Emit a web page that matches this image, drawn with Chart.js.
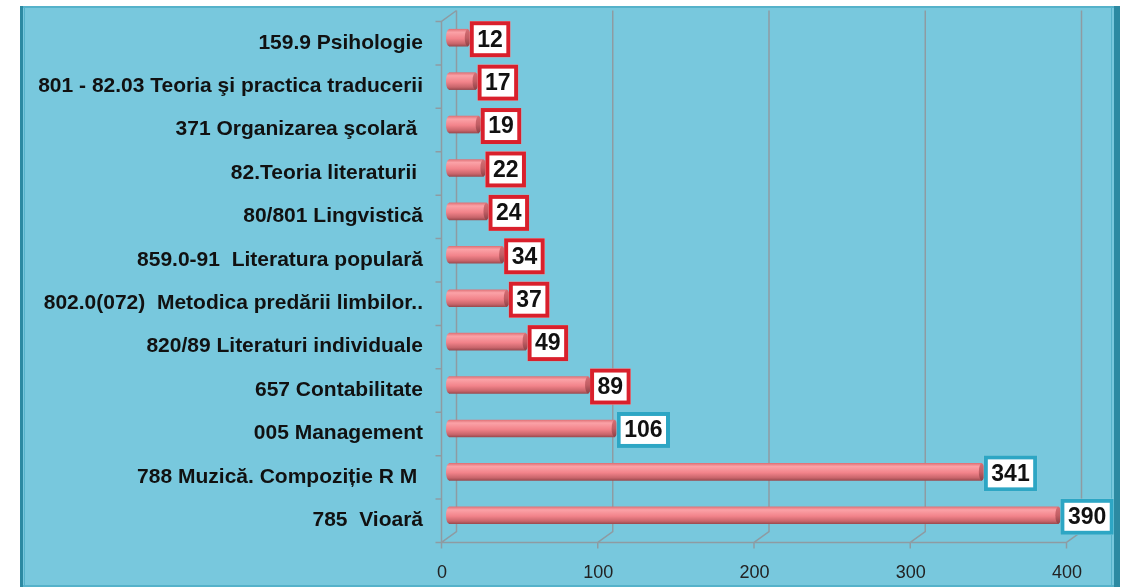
<!DOCTYPE html>
<html>
<head>
<meta charset="utf-8">
<script src="https://cdn.jsdelivr.net/npm/chart.js@4.4.1/dist/chart.umd.min.js"></script>
<style>
  html, body { margin: 0; padding: 0; background: #fff; }
  canvas { display: block; }
</style>
</head>
<body>
<canvas id="chart" width="1127" height="587"></canvas>
<script>
// categories, top to bottom
const categories = [
  '159.9 Psihologie',
  '801 - 82.03 Teoria şi practica traducerii',
  '371 Organizarea şcolară ',
  '82.Teoria literaturii ',
  '80/801 Lingvistică',
  '859.0-91  Literatura populară',
  '802.0(072)  Metodica predării limbilor..',
  '820/89 Literaturi individuale',
  '657 Contabilitate',
  '005 Management',
  '788 Muzică. Compoziție R M ',
  '785  Vioară'
];
const counts = [12, 17, 19, 22, 24, 34, 37, 49, 89, 106, 341, 390];
const xTicks = [0, 100, 200, 300, 400];

const PANEL_BG = '#78C8DD',
  FRAME_DARK = '#2C8AA2',
  FRAME_LIGHT = '#55B2CA',
  GRID = '#8E9BA2',
  BOX_RED = '#D9202C',
  BOX_TEAL = '#2DA6C4',
  DX = 7.5,   // half depth of the 3d floor, horizontal
  DY = 5.5,   // half depth, vertical
  BAR_H = 17;

function barFill(ctx) {
  const chart = ctx.chart;
  if (!chart.chartArea || ctx.dataIndex === undefined) return '#F2838A';
  const y = chart.scales.y.getPixelForValue(ctx.dataIndex);
  const g = chart.ctx.createLinearGradient(0, y - BAR_H / 2, 0, y + BAR_H / 2);
  g.addColorStop(0, '#E07378');
  g.addColorStop(0.18, '#FBA2A7');
  g.addColorStop(0.55, '#F2838A');
  g.addColorStop(0.85, '#C9656B');
  g.addColorStop(1, '#9C4B50');
  return g;
}

// white page, blue panel with teal frame
const framePlugin = {
  id: 'frame',
  beforeDraw(chart) {
    const c = chart.ctx, w = chart.width, h = chart.height;
    c.save();
    c.fillStyle = '#fff';
    c.fillRect(0, 0, w, h);
    c.fillStyle = PANEL_BG;
    c.fillRect(20, 6, 1100, h - 6);
    c.fillStyle = FRAME_LIGHT;
    c.fillRect(20, 6, 1100, 2);
    c.fillRect(20, h - 2, 1100, 2);
    c.fillStyle = FRAME_DARK;
    c.fillRect(20, 6, 3, h - 6);
    c.fillRect(1114, 6, 6, h - 6);
    c.fillStyle = FRAME_LIGHT;
    c.fillRect(24, 8, 1, h - 10);
    c.fillRect(1111, 8, 1, h - 10);
    c.restore();
  }
};

// 3d walls, floor and grid lines
const gridPlugin = {
  id: 'grid3d',
  beforeDatasetsDraw(chart) {
    const c = chart.ctx, a = chart.chartArea, xs = chart.scales.x;
    const backTop = a.top - DY, backBottom = a.bottom - DY,
      frontTop = a.top + DY, frontBottom = a.bottom + DY;
    const x0 = xs.getPixelForValue(0);
    c.save();
    c.strokeStyle = GRID;
    c.lineWidth = 1.5;
    c.beginPath();
    xTicks.forEach(v => {
      const px = xs.getPixelForValue(v);
      c.moveTo(px + DX, backTop);
      c.lineTo(px + DX, backBottom);
      c.lineTo(px - DX, frontBottom);
      c.lineTo(px - DX, frontBottom + 6);
    });
    // floor front edge
    c.moveTo(x0 - DX, frontBottom);
    c.lineTo(xs.getPixelForValue(xTicks[xTicks.length - 1]) - DX, frontBottom);
    // left wall front edge
    c.moveTo(x0 + DX, backTop);
    c.lineTo(x0 - DX, frontTop);
    c.lineTo(x0 - DX, frontBottom);
    const band = (a.bottom - a.top) / categories.length;
    for (let i = 0; i <= categories.length; i++) {
      const y = a.top + i * band + DY;
      c.moveTo(x0 - DX - 6, y);
      c.lineTo(x0 - DX, y);
    }
    c.stroke();
    c.restore();
  }
};

// cylinder caps and value boxes
const labelPlugin = {
  id: 'valueBoxes',
  afterDatasetsDraw(chart) {
    const c = chart.ctx, meta = chart.getDatasetMeta(0), xs = chart.scales.x;
    const x0 = xs.getPixelForValue(0);
    c.save();
    meta.data.forEach((el, i) => {
      const y = el.y;
      // left cap
      c.fillStyle = barFill({ chart: chart, dataIndex: i });
      c.beginPath();
      c.ellipse(x0, y, 3, BAR_H / 2, 0, 0, Math.PI * 2);
      c.fill();
      // right cap
      const g = c.createLinearGradient(0, y - BAR_H / 2, 0, y + BAR_H / 2);
      g.addColorStop(0, '#D56E74');
      g.addColorStop(0.5, '#C25E64');
      g.addColorStop(1, '#8E4247');
      c.fillStyle = g;
      c.beginPath();
      c.ellipse(el.x, y, 3, BAR_H / 2, 0, 0, Math.PI * 2);
      c.fill();

      // value box
      const text = String(counts[i]);
      c.font = 'bold 23px "Liberation Sans", Arial, sans-serif';
      const tw = c.measureText(text).width;
      const bw = tw + 15, bh = 36;
      const bx = el.x + 2, by = y + 1.5 - bh / 2;
      c.fillStyle = '#fff';
      c.fillRect(bx, by, bw, bh);
      c.strokeStyle = counts[i] > 100 ? BOX_TEAL : BOX_RED;
      c.lineWidth = 4;
      c.strokeRect(bx + 2, by + 2, bw - 4, bh - 4);
      c.fillStyle = '#111';
      c.textAlign = 'center';
      c.textBaseline = 'middle';
      c.fillText(text, bx + bw / 2, by + bh / 2 + 1);
    });
    c.restore();
  }
};

new Chart(document.getElementById('chart'), {
  type: 'bar',
  data: {
    labels: categories,
    datasets: [{
      data: counts,
      backgroundColor: barFill,
      borderWidth: 0,
      barThickness: BAR_H
    }]
  },
  options: {
    indexAxis: 'y',
    responsive: false,
    animation: false,
    layout: { padding: { top: 16, right: 53, left: 0, bottom: 0 } },
    plugins: {
      legend: { display: false },
      tooltip: { enabled: false }
    },
    scales: {
      x: {
        min: 0,
        max: 400,
        afterBuildTicks(s) { s.ticks = xTicks.map(v => ({ value: v })); },
        afterFit(s) { s.height = 50; s.paddingLeft = 0; s.paddingRight = 0; },
        grid: { display: false, drawTicks: false },
        border: { display: false },
        ticks: {
          padding: 25,
          labelOffset: -7,
          color: '#222',
          font: { family: '"Liberation Sans", Arial, sans-serif', size: 18 }
        }
      },
      y: {
        afterFit(s) { s.width = 449; s.paddingTop = 0; s.paddingBottom = 0; },
        grid: { display: false, drawTicks: false },
        border: { display: false },
        ticks: {
          padding: 26,
          labelOffset: 5,
          color: '#111',
          autoSkip: false,
          font: { family: '"Liberation Sans", Arial, sans-serif', size: 21, weight: 'bold' }
        }
      }
    }
  },
  plugins: [framePlugin, gridPlugin, labelPlugin]
});
</script>
</body>
</html>
